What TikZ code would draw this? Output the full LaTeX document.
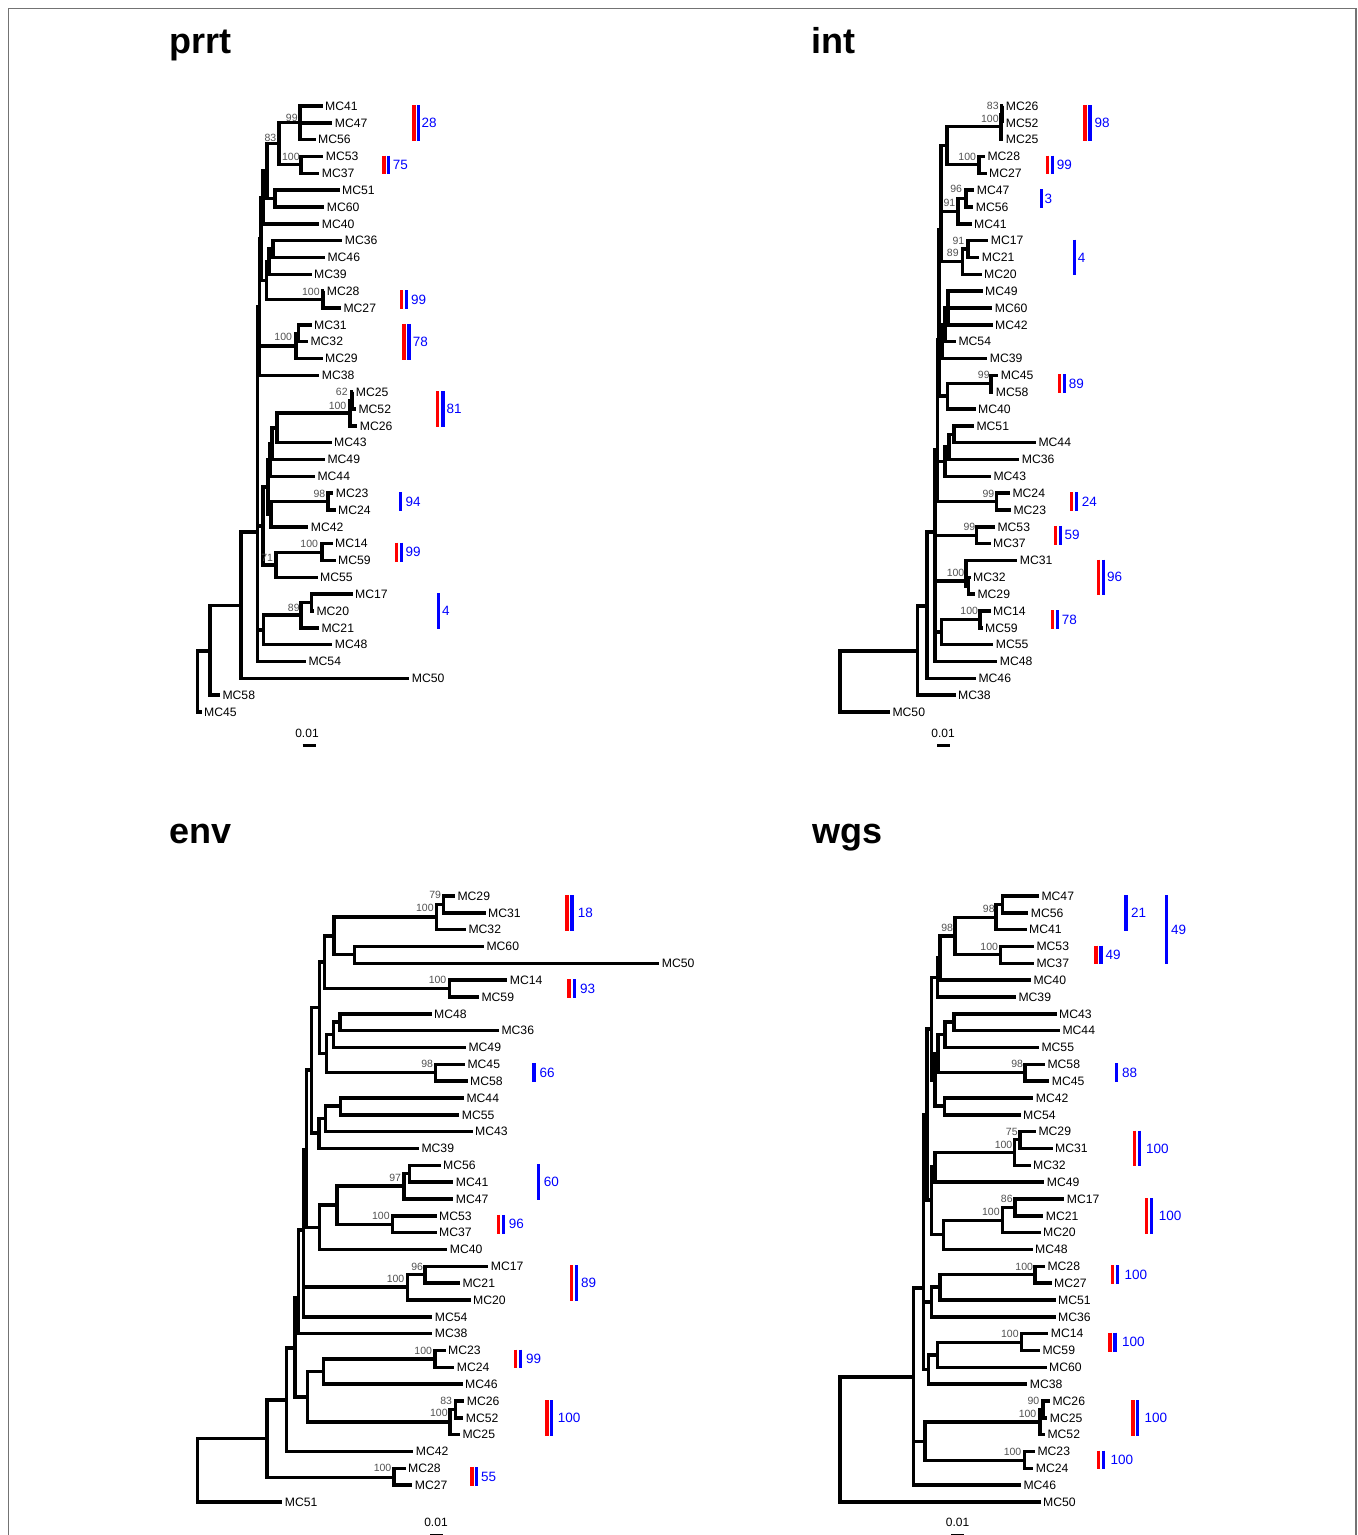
\documentclass[tikz,border=0pt]{standalone}
\usepackage{fontspec}
\setmainfont{Liberation Sans}
\newcount\bsc
\newcount\nbc
\newcommand\Leaf[4]{\node[leaf] (#1) at ({#3-3.5},{-(\Yo+#4*\Dy)}) {#2};}
\newcommand\Inner[3]{\coordinate (#1) at (#2,-#3);}
\newcommand\Kids[2]{\foreach \k in {#2} {\draw[branch] (#1) |- (\k);}}
\newcommand\Boot[3]{\global\advance\bsc by 1 \node[bs] (bs\the\bsc) at ({#1+0.5},-#2) {#3};}
\newcommand\RB[6]{%
  \draw[redbar] (#1,{-(\Yo+#4*\Dy-1)}) -- (#1,{-(\Yo+#5*\Dy+1)});
  \draw[bluebar] (#2,{-(\Yo+#4*\Dy-1)}) -- (#2,{-(\Yo+#5*\Dy+1)});
  \global\advance\nbc by 1
  \node[num] (num\the\nbc) at ({#3-0.7},{-(\Yo+(#4+#5)/2*\Dy)}) {#6};}
\newcommand\BB[5]{%
  \draw[bluebar] (#1,{-(\Yo+#3*\Dy-1)}) -- (#1,{-(\Yo+#4*\Dy+1)});
  \global\advance\nbc by 1
  \node[num] (num\the\nbc) at ({#2-0.7},{-(\Yo+(#3+#4)/2*\Dy)}) {#5};}
\begin{document}
\begin{tikzpicture}[x=1pt,y=1pt,
  branch/.style={line width=3.4pt, line join=miter, line cap=butt},
  leaf/.style={anchor=west, inner xsep=2.5pt, inner ysep=0pt, font=\fontsize{12.2}{12.2}\selectfont},
  bs/.style={anchor=east, inner sep=0pt, text=black!68, font=\fontsize{10.5}{10.5}\selectfont},
  num/.style={anchor=west, inner sep=0pt, text=blue, font=\fontsize{13.5}{13.5}\selectfont},
  redbar/.style={draw=red, line width=3.4pt},
  bluebar/.style={draw=blue, line width=3.4pt},
  title/.style={anchor=base west, inner sep=0pt, font=\fontsize{36}{36}\selectfont\bfseries},
  scl/.style={inner sep=0pt, font=\fontsize{12}{12}\selectfont},
  sbar/.style={line width=3.2pt}]
\useasboundingbox (0,0) rectangle (1358,-1535);
\fill[white] (0,0) rectangle (1358,-1535);
\draw[black!55, line width=1.2pt] (8.5,-8.5) rectangle (1356,-1560);

% titles
\node[title] (tprrt) at (169.5,-53.5) {prrt};
\node[title] (tint) at (811,-53.5) {int};
\node[title] (tenv) at (169,-843.5) {env};
\node[title] (twgs) at (812.5,-843.5) {wgs};

%================ prrt =================
\def\Yo{106}\def\Dy{16.833}
\Leaf{a41}{MC41}{326}{0}
\Leaf{a47}{MC47}{335.7}{1}
\Leaf{a56}{MC56}{319}{2}
\Leaf{a53}{MC53}{326.7}{3}
\Leaf{a37}{MC37}{322.7}{4}
\Leaf{a51}{MC51}{343}{5}
\Leaf{a60}{MC60}{327.7}{6}
\Leaf{a40}{MC40}{322.7}{7}
\Leaf{a36}{MC36}{345.7}{8}
\Leaf{a46}{MC46}{328.3}{9}
\Leaf{a39}{MC39}{315}{10}
\Leaf{a28}{MC28}{327.7}{11}
\Leaf{a27}{MC27}{344.3}{12}
\Leaf{a31}{MC31}{315}{13}
\Leaf{a32}{MC32}{311.3}{14}
\Leaf{a29}{MC29}{326}{15}
\Leaf{a38}{MC38}{322.7}{16}
\Leaf{a25}{MC25}{356.7}{17}
\Leaf{a52}{MC52}{359.3}{18}
\Leaf{a26}{MC26}{360.7}{19}
\Leaf{a43}{MC43}{335}{20}
\Leaf{a49}{MC49}{328.3}{21}
\Leaf{a44}{MC44}{318.3}{22}
\Leaf{a23}{MC23}{336.7}{23}
\Leaf{a24}{MC24}{339}{24}
\Leaf{a42}{MC42}{311.7}{25}
\Leaf{a14}{MC14}{336}{26}
\Leaf{a59}{MC59}{339}{27}
\Leaf{a55}{MC55}{321}{28}
\Leaf{a17}{MC17}{356}{29}
\Leaf{a20}{MC20}{317.3}{30}
\Leaf{a21}{MC21}{322.3}{31}
\Leaf{a48}{MC48}{335.7}{32}
\Leaf{a54}{MC54}{309.3}{33}
\Leaf{a50}{MC50}{412.7}{34}
\Leaf{a58}{MC58}{223.3}{35}
\Leaf{a45}{MC45}{205}{36}
\Inner{an99}{300}{122.5}
\Inner{an100a}{301}{164.5}
\Inner{an83}{279}{143.5}
\Inner{an5160}{275}{198.5}
\Inner{ap1}{267}{171}
\Inner{ap2}{263}{197.5}
\Inner{an3646}{273}{249}
\Inner{an363946}{269}{261.5}
\Inner{an2827}{323}{299.5}
\Inner{aq1}{266.5}{280.5}
\Inner{ap3}{261}{239}
\Inner{an3132}{298.5}{333.5}
\Inner{an100b}{296}{346}
\Inner{ap4}{259.5}{307}
\Inner{an2552}{352}{400.5}
\Inner{an100c}{350}{413}
\Inner{ar1}{277}{428}
\Inner{ar2}{272}{444}
\Inner{ar3}{270}{460}
\Inner{an98}{328}{501.5}
\Inner{ar4}{271}{514}
\Inner{ar5}{268}{487}
\Inner{an100d}{322}{552.5}
\Inner{an71}{276}{565}
\Inner{ar6}{263}{526}
\Inner{an1720}{311.5}{602.5}
\Inner{an89}{301}{615}
\Inner{as1}{263.3}{630}
\Inner{aC}{257.5}{532}
\Inner{aB}{241}{605.5}
\Inner{aA}{210}{651}
\Inner{aR}{197.5}{682}
\Kids{an99}{a41,a47,a56}
\Kids{an100a}{a53,a37}
\Kids{an83}{an99,an100a}
\Kids{an5160}{a51,a60}
\Kids{ap1}{an83,an5160}
\Kids{ap2}{ap1,a40}
\Kids{an3646}{a36,a46}
\Kids{an363946}{an3646,a39}
\Kids{an2827}{a28,a27}
\Kids{aq1}{an363946,an2827}
\Kids{ap3}{ap2,aq1}
\Kids{an3132}{a31,a32}
\Kids{an100b}{an3132,a29}
\Kids{ap4}{ap3,an100b,a38}
\Kids{an2552}{a25,a52}
\Kids{an100c}{an2552,a26}
\Kids{ar1}{an100c,a43}
\Kids{ar2}{ar1,a49}
\Kids{ar3}{ar2,a44}
\Kids{an98}{a23,a24}
\Kids{ar4}{an98,a42}
\Kids{ar5}{ar3,ar4}
\Kids{an100d}{a14,a59}
\Kids{an71}{an100d,a55}
\Kids{ar6}{ar5,an71}
\Kids{an1720}{a17,a20}
\Kids{an89}{an1720,a21}
\Kids{as1}{an89,a48}
\Kids{aC}{ap4,ar6,as1,a54}
\Kids{aB}{aC,a50}
\Kids{aA}{aB,a58}
\Kids{aR}{aA,a45}
\Boot{297.3}{118.3}{99}
\Boot{276}{138.3}{83}
\Boot{299.3}{156.7}{100}
\Boot{319.3}{291.7}{100}
\Boot{291.7}{337.3}{100}
\Boot{347.3}{392.3}{62}
\Boot{346}{406}{100}
\Boot{325}{494.3}{98}
\Boot{317.7}{544}{100}
\Boot{272.7}{558.3}{71}
\Boot{299.3}{607.7}{89}
\RB{414}{418.7}{422}{0}{2}{28}
\RB{384}{388.7}{393.3}{3}{4}{75}
\RB{401.7}{406.5}{411.7}{11}{12}{99}
\RB{404}{408.8}{413.3}{13}{15}{78}
\RB{437.7}{443}{447}{17}{19}{81}
\BB{400.7}{406}{23}{24}{94}
\RB{396.7}{401.4}{406}{26}{27}{99}
\BB{438.7}{442.7}{29}{31}{4}
\node[scl] (sc1) at (307,-733.5) {0.01};
\draw[sbar] (302.7,-745.5) -- (316,-745.5);

%================ int =================
\def\Yo{106}\def\Dy{16.833}
\Leaf{b26}{MC26}{1006.7}{0}
\Leaf{b52}{MC52}{1006.7}{1}
\Leaf{b25}{MC25}{1006.7}{2}
\Leaf{b28}{MC28}{988.3}{3}
\Leaf{b27}{MC27}{990}{4}
\Leaf{b47}{MC47}{977.7}{5}
\Leaf{b56}{MC56}{976.7}{6}
\Leaf{b41}{MC41}{975}{7}
\Leaf{b17}{MC17}{991.7}{8}
\Leaf{b21}{MC21}{982.7}{9}
\Leaf{b20}{MC20}{985}{10}
\Leaf{b49}{MC49}{986}{11}
\Leaf{b60}{MC60}{995.7}{12}
\Leaf{b42}{MC42}{996}{13}
\Leaf{b54}{MC54}{959.3}{14}
\Leaf{b39}{MC39}{990.7}{15}
\Leaf{b45}{MC45}{1001.7}{16}
\Leaf{b58}{MC58}{996.7}{17}
\Leaf{b40}{MC40}{979}{18}
\Leaf{b51}{MC51}{977.3}{19}
\Leaf{b44}{MC44}{1039.3}{20}
\Leaf{b36}{MC36}{1022.7}{21}
\Leaf{b43}{MC43}{994.3}{22}
\Leaf{b24}{MC24}{1013.3}{23}
\Leaf{b23}{MC23}{1014.3}{24}
\Leaf{b53}{MC53}{998.3}{25}
\Leaf{b37}{MC37}{994}{26}
\Leaf{b31}{MC31}{1020.7}{27}
\Leaf{b32}{MC32}{974}{28}
\Leaf{b29}{MC29}{978.3}{29}
\Leaf{b14}{MC14}{994}{30}
\Leaf{b59}{MC59}{986}{31}
\Leaf{b55}{MC55}{996.7}{32}
\Leaf{b48}{MC48}{1000.7}{33}
\Leaf{b46}{MC46}{979.3}{34}
\Leaf{b38}{MC38}{959}{35}
\Leaf{b50}{MC50}{893.3}{36}
\Inner{bm83}{1002}{114.5}
\Inner{bm100}{1000.8}{126.5}
\Inner{bm100b}{979}{164.5}
\Inner{bt1}{947}{145.5}
\Inner{bm96}{966}{198.5}
\Inner{bm91}{958}{211.3}
\Inner{bm91b}{968}{249}
\Inner{bm89}{962.5}{261.5}
\Inner{bb1}{941}{230}
\Inner{bu1}{948}{308}
\Inner{bu2}{945}{325}
\Inner{bu3}{942}{341.5}
\Inner{bm99}{991}{383.5}
\Inner{bv1}{947.3}{396}
\Inner{bb2}{939}{340}
\Inner{bm5144}{954}{434.5}
\Inner{bw1}{949}{447}
\Inner{bw2}{945}{461.6}
\Inner{bm99b}{996.7}{501.5}
\Inner{bb3}{937.5}{450}
\Inner{bm99c}{976.7}{535.5}
\Inner{bm32}{968.5}{586}
\Inner{bm100c}{966}{581}
\Inner{bm100d}{980}{619.5}
\Inner{bx1}{941.7}{632}
\Inner{bBB}{935}{532}
\Inner{bZ}{927}{606}
\Inner{bY}{917.3}{651}
\Inner{bR}{840}{681.5}
\Kids{bm83}{b26,b52}
\Kids{bm100}{bm83,b25}
\Kids{bm100b}{b28,b27}
\Kids{bt1}{bm100,bm100b}
\Kids{bm96}{b47,b56}
\Kids{bm91}{bm96,b41}
\Kids{bm91b}{b17,b21}
\Kids{bm89}{bm91b,b20}
\Kids{bb1}{bt1,bm91,bm89}
\Kids{bu1}{b49,b60,b42}
\Kids{bu2}{bu1,b54}
\Kids{bu3}{bu2,b39}
\Kids{bm99}{b45,b58}
\Kids{bv1}{bm99,b40}
\Kids{bb2}{bb1,bu3,bv1}
\Kids{bm5144}{b51,b44}
\Kids{bw1}{bm5144,b36}
\Kids{bw2}{bw1,b43}
\Kids{bm99b}{b24,b23}
\Kids{bb3}{bb2,bw2,bm99b}
\Kids{bm99c}{b53,b37}
\Kids{bm32}{b32,b29}
\Kids{bm100c}{b31,bm32}
\Kids{bm100d}{b14,b59}
\Kids{bx1}{bm100d,b55}
\Kids{bBB}{bb3,bm99c,bm100c,bx1,b48}
\Kids{bZ}{bBB,b46}
\Kids{bY}{bZ,b38}
\Kids{bR}{bY,b50}
\Boot{998.3}{106}{83}
\Boot{998.3}{119}{100}
\Boot{975.7}{156.7}{100}
\Boot{961.7}{189.3}{96}
\Boot{955}{203.3}{91}
\Boot{964}{240.7}{91}
\Boot{958.3}{253.3}{89}
\Boot{989.3}{375}{99}
\Boot{994}{494}{99}
\Boot{975}{527.3}{99}
\Boot{964}{573}{100}
\Boot{977.7}{611}{100}
\RB{1085}{1090}{1095}{0}{2}{98}
\RB{1047.5}{1052.3}{1057.3}{3}{4}{99}
\BB{1041.3}{1045}{5}{6}{3}
\BB{1074.2}{1078.3}{8}{10}{4}
\RB{1059.5}{1064.3}{1069.3}{16}{17}{89}
\RB{1071.7}{1076.7}{1082.3}{23}{24}{24}
\RB{1055.7}{1060.7}{1065}{25}{26}{59}
\RB{1098.3}{1103.3}{1107.5}{27}{29}{96}
\RB{1052.3}{1057.3}{1062.3}{30}{31}{78}
\node[scl] (sc2) at (943,-733.5) {0.01};
\draw[sbar] (937,-745.5) -- (950,-745.5);

%================ env =================
\def\Yo{896}\def\Dy{16.833}
\Leaf{c29}{MC29}{458.3}{0}
\Leaf{c31}{MC31}{489}{1}
\Leaf{c32}{MC32}{469.3}{2}
\Leaf{c60}{MC60}{487.3}{3}
\Leaf{c50}{MC50}{662.7}{4}
\Leaf{c14}{MC14}{510.7}{5}
\Leaf{c59}{MC59}{482.3}{6}
\Leaf{c48}{MC48}{435}{7}
\Leaf{c36}{MC36}{502.3}{8}
\Leaf{c49}{MC49}{469.3}{9}
\Leaf{c45}{MC45}{468.3}{10}
\Leaf{c58}{MC58}{471}{11}
\Leaf{c44}{MC44}{467.3}{12}
\Leaf{c55}{MC55}{462.7}{13}
\Leaf{c43}{MC43}{476}{14}
\Leaf{c39}{MC39}{422.3}{15}
\Leaf{c56}{MC56}{444}{16}
\Leaf{c41}{MC41}{456.7}{17}
\Leaf{c47}{MC47}{456.7}{18}
\Leaf{c53}{MC53}{440}{19}
\Leaf{c37}{MC37}{440}{20}
\Leaf{c40}{MC40}{450.7}{21}
\Leaf{c17}{MC17}{491.7}{22}
\Leaf{c21}{MC21}{463.3}{23}
\Leaf{c20}{MC20}{474}{24}
\Leaf{c54}{MC54}{435.7}{25}
\Leaf{c38}{MC38}{435.7}{26}
\Leaf{c23}{MC23}{449}{27}
\Leaf{c24}{MC24}{457.7}{28}
\Leaf{c46}{MC46}{466}{29}
\Leaf{c26}{MC26}{467.7}{30}
\Leaf{c52}{MC52}{466.7}{31}
\Leaf{c25}{MC25}{463.3}{32}
\Leaf{c42}{MC42}{416.7}{33}
\Leaf{c28}{MC28}{409}{34}
\Leaf{c27}{MC27}{415.7}{35}
\Leaf{c51}{MC51}{285.7}{36}
\Inner{ce79}{443.3}{904.5}
\Inner{ce100}{436.7}{917}
\Inner{ce6050}{354.3}{954.5}
\Inner{ce1}{334}{936}
\Inner{ce100b}{449.3}{988.5}
\Inner{ce2}{324.3}{962}
\Inner{ce4836}{340}{1022}
\Inner{ce3}{333.3}{1034.5}
\Inner{ce98}{435.7}{1072.5}
\Inner{ce4}{326.7}{1053.5}
\Inner{ce5}{319.3}{1007.7}
\Inner{ce4455}{340.7}{1106}
\Inner{ce6}{325.7}{1118.5}
\Inner{ce7}{319}{1133}
\Inner{ce8}{311.7}{1070}
\Inner{ce5641}{409.3}{1173.5}
\Inner{ce97}{404}{1186}
\Inner{ce100c}{392.3}{1224.5}
\Inner{ce9}{337}{1205}
\Inner{ce10}{319.5}{1227.5}
\Inner{ce96}{425}{1274.5}
\Inner{ce100d}{407.3}{1287}
\Inner{cf1}{306.5}{1150}
\Inner{cf2}{303.3}{1230}
\Inner{cEup}{298.3}{1298}
\Inner{ce100e}{435}{1359}
\Inner{ce2346}{323.3}{1371.5}
\Inner{ce83}{455.7}{1409.5}
\Inner{ce100f}{450}{1422}
\Inner{ce11}{307.3}{1397}
\Inner{ce12}{295}{1348}
\Inner{ce13}{286.7}{1400}
\Inner{ce100g}{394}{1477.5}
\Inner{ce14}{267}{1438.7}
\Inner{cR}{197.3}{1470}
\Kids{ce79}{c29,c31}
\Kids{ce100}{ce79,c32}
\Kids{ce6050}{c60,c50}
\Kids{ce1}{ce100,ce6050}
\Kids{ce100b}{c14,c59}
\Kids{ce2}{ce1,ce100b}
\Kids{ce4836}{c48,c36}
\Kids{ce3}{ce4836,c49}
\Kids{ce98}{c45,c58}
\Kids{ce4}{ce3,ce98}
\Kids{ce5}{ce2,ce4}
\Kids{ce4455}{c44,c55}
\Kids{ce6}{ce4455,c43}
\Kids{ce7}{ce6,c39}
\Kids{ce8}{ce5,ce7}
\Kids{ce5641}{c56,c41}
\Kids{ce97}{ce5641,c47}
\Kids{ce100c}{c53,c37}
\Kids{ce9}{ce97,ce100c}
\Kids{ce10}{ce9,c40}
\Kids{ce96}{c17,c21}
\Kids{ce100d}{ce96,c20}
\Kids{cf1}{ce8,ce10}
\Kids{cf2}{cf1,ce100d,c54}
\Kids{cEup}{cf2,c38}
\Kids{ce100e}{c23,c24}
\Kids{ce2346}{ce100e,c46}
\Kids{ce83}{c26,c52}
\Kids{ce100f}{ce83,c25}
\Kids{ce11}{ce2346,ce100f}
\Kids{ce12}{cEup,ce11}
\Kids{ce13}{ce12,c42}
\Kids{ce100g}{c28,c27}
\Kids{ce14}{ce13,ce100g}
\Kids{cR}{ce14,c51}
\Boot{440.7}{895}{79}
\Boot{433.3}{908.3}{100}
\Boot{446}{980}{100}
\Boot{432.7}{1064.3}{98}
\Boot{400.7}{1178.3}{97}
\Boot{389.3}{1216}{100}
\Boot{422.7}{1266.7}{96}
\Boot{404}{1279.3}{100}
\Boot{431.7}{1350.7}{100}
\Boot{451.7}{1401}{83}
\Boot{447.3}{1413.3}{100}
\Boot{391}{1468.3}{100}
\RB{567}{572}{578.3}{0}{2}{18}
\RB{569}{574.2}{580.7}{5}{6}{93}
\BB{534}{540}{10}{11}{66}
\BB{538.7}{544.3}{16}{18}{60}
\RB{498.3}{503.3}{509.3}{19}{20}{96}
\RB{571.3}{576.3}{581.7}{22}{24}{89}
\RB{515.7}{520.7}{526.7}{27}{28}{99}
\RB{547}{551.7}{558.3}{30}{32}{100}
\RB{472}{476.7}{481.7}{34}{35}{55}
\node[scl] (sc3) at (436,-1522) {0.01};
\draw[sbar] (430,-1535.5) -- (443,-1535.5);

%================ wgs =================
\def\Yo{896}\def\Dy{16.833}
\Leaf{d47}{MC47}{1042.3}{0}
\Leaf{d56}{MC56}{1031.7}{1}
\Leaf{d41}{MC41}{1030}{2}
\Leaf{d53}{MC53}{1037.3}{3}
\Leaf{d37}{MC37}{1037.3}{4}
\Leaf{d40}{MC40}{1034.3}{5}
\Leaf{d39}{MC39}{1019.3}{6}
\Leaf{d43}{MC43}{1060}{7}
\Leaf{d44}{MC44}{1063.3}{8}
\Leaf{d55}{MC55}{1042.3}{9}
\Leaf{d58}{MC58}{1048.3}{10}
\Leaf{d45}{MC45}{1052.7}{11}
\Leaf{d42}{MC42}{1036.7}{12}
\Leaf{d54}{MC54}{1024}{13}
\Leaf{d29}{MC29}{1039.3}{14}
\Leaf{d31}{MC31}{1056}{15}
\Leaf{d32}{MC32}{1034}{16}
\Leaf{d49}{MC49}{1047.7}{17}
\Leaf{d17}{MC17}{1067.7}{18}
\Leaf{d21}{MC21}{1046.7}{19}
\Leaf{d20}{MC20}{1044}{20}
\Leaf{d48}{MC48}{1036}{21}
\Leaf{d28}{MC28}{1048.3}{22}
\Leaf{d27}{MC27}{1055}{23}
\Leaf{d51}{MC51}{1059}{24}
\Leaf{d36}{MC36}{1059}{25}
\Leaf{d14}{MC14}{1051.7}{26}
\Leaf{d59}{MC59}{1043.3}{27}
\Leaf{d60}{MC60}{1050}{28}
\Leaf{d38}{MC38}{1030.7}{29}
\Leaf{d26}{MC26}{1053.3}{30}
\Leaf{d25}{MC25}{1050.7}{31}
\Leaf{d52}{MC52}{1048.3}{32}
\Leaf{d23}{MC23}{1038.3}{33}
\Leaf{d24}{MC24}{1036.7}{34}
\Leaf{d46}{MC46}{1024.3}{35}
\Leaf{d50}{MC50}{1044}{36}
\Inner{dw4756}{1002.7}{904.5}
\Inner{dw98a}{996}{917.3}
\Inner{dw100a}{1000.7}{954.5}
\Inner{dw98b}{955}{936}
\Inner{dg1}{940}{958}
\Inner{dg2}{937.3}{977.5}
\Inner{dw4344}{954}{1022}
\Inner{dg3}{945}{1034.5}
\Inner{dw98c}{1025}{1072.5}
\Inner{dg4}{938}{1053.5}
\Inner{dw4254}{944.3}{1106}
\Inner{dg5}{935}{1080}
\Inner{dg6}{931.7}{1029}
\Inner{dw75}{1020}{1139.5}
\Inner{dw100b}{1014.3}{1152.3}
\Inner{dh1}{935}{1167}
\Inner{dw86}{1015}{1207.5}
\Inner{dw100c}{1002.7}{1220.3}
\Inner{dh2}{943.3}{1234.6}
\Inner{dh3}{931.7}{1200}
\Inner{dm1}{927}{1114.5}
\Inner{dw100d}{1035}{1274.5}
\Inner{dk1}{940}{1287}
\Inner{dk2}{931.7}{1302}
\Inner{dw100e}{1021.7}{1342.5}
\Inner{dk3}{937.3}{1355}
\Inner{dk4}{928.3}{1369.5}
\Inner{dm2}{923.3}{1288}
\Inner{dw90}{1043}{1409.5}
\Inner{dw100f}{1040}{1422}
\Inner{dw100g}{1024.3}{1460.5}
\Inner{dp1}{925}{1441.3}
\Inner{dQ}{913.5}{1377}
\Inner{dR}{840}{1439.5}
\Kids{dw4756}{d47,d56}
\Kids{dw98a}{dw4756,d41}
\Kids{dw100a}{d53,d37}
\Kids{dw98b}{dw98a,dw100a}
\Kids{dg1}{dw98b,d40}
\Kids{dg2}{dg1,d39}
\Kids{dw4344}{d43,d44}
\Kids{dg3}{dw4344,d55}
\Kids{dw98c}{d58,d45}
\Kids{dg4}{dg3,dw98c}
\Kids{dw4254}{d42,d54}
\Kids{dg5}{dg4,dw4254}
\Kids{dg6}{dg2,dg5}
\Kids{dw75}{d29,d31}
\Kids{dw100b}{dw75,d32}
\Kids{dh1}{dw100b,d49}
\Kids{dw86}{d17,d21}
\Kids{dw100c}{dw86,d20}
\Kids{dh2}{dw100c,d48}
\Kids{dh3}{dh1,dh2}
\Kids{dm1}{dg6,dh3}
\Kids{dw100d}{d28,d27}
\Kids{dk1}{dw100d,d51}
\Kids{dk2}{dk1,d36}
\Kids{dw100e}{d14,d59}
\Kids{dk3}{dw100e,d60}
\Kids{dk4}{dk3,d38}
\Kids{dm2}{dm1,dk2,dk4}
\Kids{dw90}{d26,d25}
\Kids{dw100f}{dw90,d52}
\Kids{dw100g}{d23,d24}
\Kids{dp1}{dw100f,dw100g}
\Kids{dQ}{dm2,dp1,d46}
\Kids{dR}{dQ,d50}
\Boot{994.3}{909}{98}
\Boot{952.7}{928.3}{98}
\Boot{997.7}{946.7}{100}
\Boot{1022.7}{1064.3}{98}
\Boot{1017.3}{1131.7}{75}
\Boot{1012}{1145}{100}
\Boot{1012.3}{1199.3}{86}
\Boot{999.3}{1212.3}{100}
\Boot{1032.7}{1266.7}{100}
\Boot{1018.3}{1334}{100}
\Boot{1039}{1400.7}{90}
\Boot{1036}{1414}{100}
\Boot{1021}{1452.3}{100}
\BB{1126}{1131.7}{0}{2}{21}
\BB{1166.3}{1171.7}{0}{4}{49}
\RB{1096}{1100.8}{1106}{3}{4}{49}
\BB{1116.7}{1122.7}{10}{11}{88}
\RB{1134.3}{1139.3}{1146.7}{14}{16}{100}
\RB{1146.3}{1151.3}{1159.3}{18}{20}{100}
\RB{1112.3}{1117.5}{1125}{22}{23}{100}
\RB{1110}{1115}{1122.7}{26}{27}{100}
\RB{1133}{1137.7}{1145}{30}{32}{100}
\RB{1098.3}{1103.3}{1111}{33}{34}{100}
\node[scl] (sc4) at (957.5,-1522) {0.01};
\draw[sbar] (951,-1535.5) -- (964,-1535.5);
\end{tikzpicture}
\end{document}
